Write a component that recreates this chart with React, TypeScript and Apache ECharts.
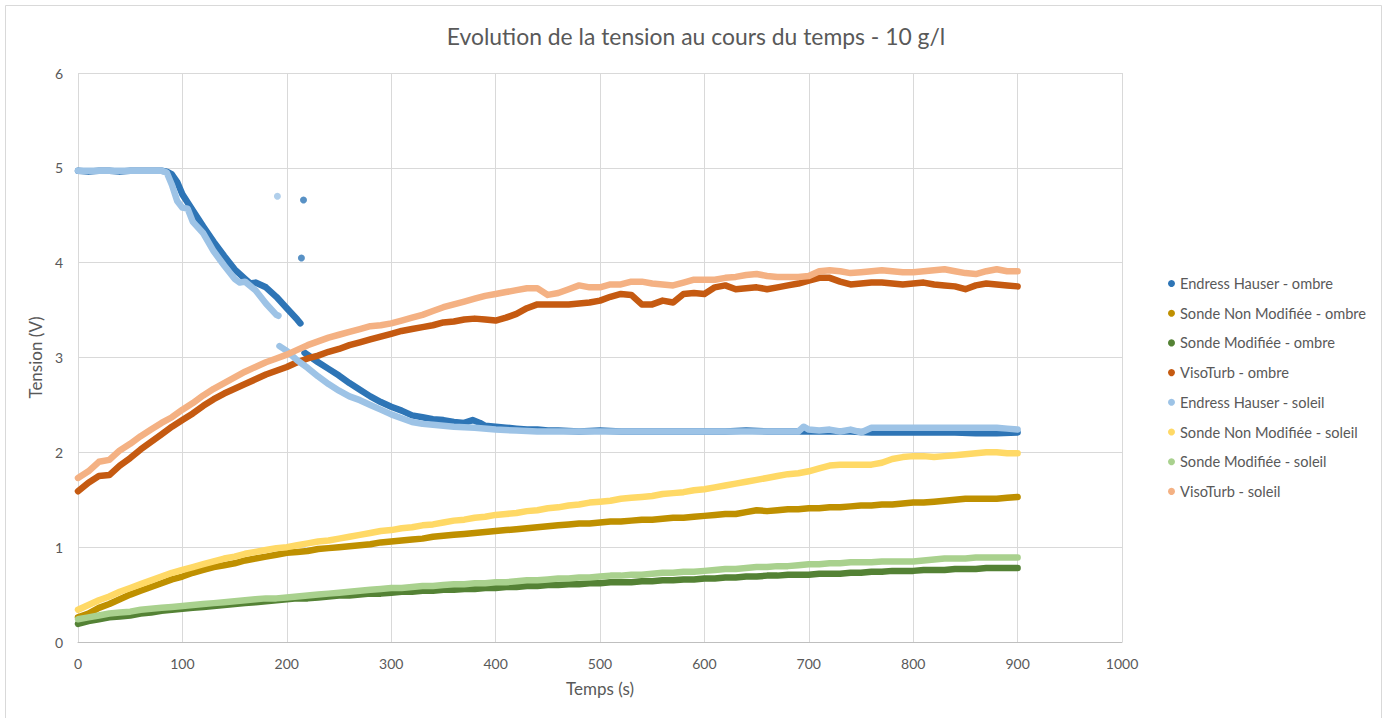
import React, { useEffect, useRef } from "react";
import * as echarts from "echarts";

const titleText = "Evolution de la tension au cours du temps - 10 g/l";
const xName = "Temps (s)";
const yName = "Tension (V)";

const seriesNames = [
  "Endress Hauser - ombre",
  "Sonde Non Modifiée - ombre",
  "Sonde Modifiée - ombre",
  "VisoTurb - ombre",
  "Endress Hauser - soleil",
  "Sonde Non Modifiée - soleil",
  "Sonde Modifiée - soleil",
  "VisoTurb - soleil",
];
const seriesColors = ["#2E75B6", "#BF9000", "#548235", "#C55A11", "#9DC3E6", "#FFD966", "#A9D18E", "#F4B183"];

// common time grid (s)
const time = [
  0, 10, 20, 30, 40, 50, 60, 70, 80, 90, 100, 110, 120, 130, 140, 150, 160, 170, 180, 190,
  200, 210, 220, 230, 240, 250, 260, 270, 280, 290, 300, 310, 320, 330, 340, 350, 360, 370, 380, 390,
  400, 410, 420, 430, 440, 450, 460, 470, 480, 490, 500, 510, 520, 530, 540, 550, 560, 570, 580, 590,
  600, 610, 620, 630, 640, 650, 660, 670, 680, 690, 700, 710, 720, 730, 740, 750, 760, 770, 780, 790,
  800, 810, 820, 830, 840, 850, 860, 870, 880, 890, 900,
];

const snmOmbre = [
  0.26, 0.30, 0.36, 0.40, 0.45, 0.50, 0.54, 0.58, 0.62, 0.66, 0.69, 0.73, 0.76, 0.79, 0.81, 0.83, 0.86, 0.88, 0.90, 0.92,
  0.94, 0.95, 0.96, 0.98, 0.99, 1.00, 1.01, 1.02, 1.03, 1.05, 1.06, 1.07, 1.08, 1.09, 1.11, 1.12, 1.13, 1.14, 1.15, 1.16,
  1.17, 1.18, 1.19, 1.20, 1.21, 1.22, 1.23, 1.24, 1.25, 1.25, 1.26, 1.27, 1.27, 1.28, 1.29, 1.29, 1.30, 1.31, 1.31, 1.32,
  1.33, 1.34, 1.35, 1.35, 1.37, 1.39, 1.38, 1.39, 1.40, 1.40, 1.41, 1.41, 1.42, 1.42, 1.43, 1.44, 1.44, 1.45, 1.45, 1.46,
  1.47, 1.47, 1.48, 1.49, 1.50, 1.51, 1.51, 1.51, 1.51, 1.52, 1.53,
];
const smOmbre = [
  0.19, 0.22, 0.24, 0.26, 0.27, 0.28, 0.30, 0.31, 0.33, 0.34, 0.35, 0.36, 0.37, 0.38, 0.39, 0.40, 0.41, 0.42, 0.43, 0.44,
  0.45, 0.46, 0.46, 0.47, 0.48, 0.49, 0.49, 0.50, 0.51, 0.51, 0.52, 0.53, 0.53, 0.54, 0.54, 0.55, 0.55, 0.56, 0.56, 0.57,
  0.57, 0.58, 0.58, 0.59, 0.59, 0.60, 0.60, 0.61, 0.61, 0.62, 0.62, 0.63, 0.63, 0.63, 0.64, 0.64, 0.65, 0.65, 0.66, 0.66,
  0.67, 0.67, 0.68, 0.68, 0.69, 0.69, 0.70, 0.70, 0.71, 0.71, 0.71, 0.72, 0.72, 0.72, 0.73, 0.73, 0.74, 0.74, 0.75, 0.75,
  0.75, 0.76, 0.76, 0.76, 0.77, 0.77, 0.77, 0.78, 0.78, 0.78, 0.78,
];
const visoOmbre = [
  1.59, 1.68, 1.75, 1.76, 1.86, 1.94, 2.03, 2.11, 2.19, 2.27, 2.34, 2.41, 2.49, 2.56, 2.62, 2.67, 2.72, 2.77, 2.82, 2.86,
  2.90, 2.95, 2.99, 3.02, 3.06, 3.09, 3.13, 3.16, 3.19, 3.22, 3.25, 3.28, 3.30, 3.32, 3.34, 3.37, 3.38, 3.40, 3.41, 3.40,
  3.39, 3.42, 3.46, 3.52, 3.56, 3.56, 3.56, 3.56, 3.57, 3.58, 3.60, 3.64, 3.67, 3.66, 3.56, 3.56, 3.60, 3.58, 3.67, 3.68,
  3.67, 3.74, 3.76, 3.72, 3.73, 3.74, 3.72, 3.74, 3.76, 3.78, 3.81, 3.84, 3.84, 3.80, 3.77, 3.78, 3.79, 3.79, 3.78, 3.77,
  3.78, 3.79, 3.77, 3.76, 3.75, 3.72, 3.76, 3.78, 3.77, 3.76, 3.75,
];
const snmSoleil = [
  0.34, 0.39, 0.44, 0.48, 0.53, 0.57, 0.61, 0.65, 0.69, 0.73, 0.76, 0.79, 0.82, 0.85, 0.88, 0.90, 0.93, 0.95, 0.97, 0.99,
  1.00, 1.02, 1.04, 1.06, 1.07, 1.09, 1.11, 1.13, 1.15, 1.17, 1.18, 1.20, 1.21, 1.23, 1.24, 1.26, 1.28, 1.29, 1.31, 1.32,
  1.34, 1.35, 1.36, 1.38, 1.39, 1.41, 1.42, 1.44, 1.45, 1.47, 1.48, 1.49, 1.51, 1.52, 1.53, 1.54, 1.56, 1.57, 1.58, 1.60,
  1.61, 1.63, 1.65, 1.67, 1.69, 1.71, 1.73, 1.75, 1.77, 1.78, 1.80, 1.83, 1.86, 1.87, 1.87, 1.87, 1.87, 1.89, 1.93, 1.95,
  1.96, 1.96, 1.95, 1.96, 1.97, 1.98, 1.99, 2.00, 2.00, 1.99, 1.99,
];
const smSoleil = [
  0.24, 0.26, 0.28, 0.30, 0.31, 0.32, 0.34, 0.35, 0.36, 0.37, 0.38, 0.39, 0.40, 0.41, 0.42, 0.43, 0.44, 0.45, 0.46, 0.46,
  0.47, 0.48, 0.49, 0.50, 0.51, 0.52, 0.53, 0.54, 0.55, 0.56, 0.57, 0.57, 0.58, 0.59, 0.59, 0.60, 0.61, 0.61, 0.62, 0.62,
  0.63, 0.63, 0.64, 0.65, 0.65, 0.66, 0.67, 0.67, 0.68, 0.68, 0.69, 0.70, 0.70, 0.71, 0.71, 0.72, 0.73, 0.73, 0.74, 0.74,
  0.75, 0.76, 0.77, 0.77, 0.78, 0.79, 0.79, 0.80, 0.80, 0.81, 0.82, 0.82, 0.83, 0.83, 0.84, 0.84, 0.84, 0.85, 0.85, 0.85,
  0.85, 0.86, 0.87, 0.88, 0.88, 0.88, 0.89, 0.89, 0.89, 0.89, 0.89,
];
const visoSoleil = [
  1.73, 1.80, 1.90, 1.92, 2.02, 2.09, 2.17, 2.24, 2.31, 2.37, 2.45, 2.52, 2.60, 2.67, 2.73, 2.79, 2.85, 2.90, 2.95, 2.99,
  3.03, 3.08, 3.13, 3.17, 3.21, 3.24, 3.27, 3.30, 3.33, 3.34, 3.36, 3.39, 3.42, 3.45, 3.49, 3.53, 3.56, 3.59, 3.62, 3.65,
  3.67, 3.69, 3.71, 3.73, 3.73, 3.66, 3.68, 3.72, 3.76, 3.74, 3.74, 3.77, 3.77, 3.80, 3.80, 3.78, 3.77, 3.76, 3.79, 3.82,
  3.82, 3.82, 3.84, 3.85, 3.87, 3.88, 3.86, 3.85, 3.85, 3.85, 3.86, 3.91, 3.92, 3.91, 3.89, 3.90, 3.91, 3.92, 3.91, 3.90,
  3.90, 3.91, 3.92, 3.93, 3.91, 3.89, 3.88, 3.91, 3.93, 3.91, 3.91,
];

// Endress Hauser series have their own time points (with a gap: null)
const ehOmbreTime = [
  0, 10, 20, 30, 40, 50, 60, 70, 80, 85, 90, 95, 100, 110, 120, 130, 140, 150, 160, 165, 170, 180, 190, 200, 210, 213,
  215, 217, 230, 240, 250, 260, 270, 280, 290, 300, 310, 320, 330, 340, 350, 360, 370, 378, 385, 390, 400, 410, 420, 430,
  440, 450, 460, 480, 500, 520, 540, 560, 580, 600, 620, 640, 660, 680, 700, 720, 740, 760, 780, 800, 820, 840, 860, 880, 900,
];
const ehOmbre = [
  4.97, 4.96, 4.97, 4.97, 4.96, 4.97, 4.97, 4.97, 4.97, 4.96, 4.93, 4.85, 4.72, 4.55, 4.38, 4.22, 4.07, 3.93, 3.83, 3.78, 3.79, 3.74, 3.64, 3.52, 3.40, 3.36,
  null, 3.05, 2.95, 2.88, 2.81, 2.73, 2.66, 2.59, 2.53, 2.48, 2.44, 2.39, 2.37, 2.35, 2.34, 2.32, 2.31, 2.34, 2.31, 2.28, 2.27, 2.26, 2.25, 2.24,
  2.24, 2.23, 2.23, 2.22, 2.23, 2.22, 2.22, 2.22, 2.22, 2.22, 2.22, 2.23, 2.22, 2.22, 2.22, 2.22, 2.22, 2.21, 2.21, 2.21, 2.21, 2.21, 2.20, 2.20, 2.21,
];
const ehOmbreOutlierTime = [214, 216];
const ehOmbreOutlier = [4.05, 4.66];

const ehSoleilTime = [
  0, 10, 20, 30, 40, 50, 60, 70, 80, 85, 90, 95, 100, 105, 110, 120, 130, 140, 150, 155, 160, 170, 180, 190, 192,
  192.5, 193, 200, 210, 220, 230, 240, 250, 260, 270, 280, 290, 300, 310, 320, 330, 340, 360, 380, 400, 420, 440, 460,
  480, 500, 520, 540, 560, 580, 600, 620, 640, 660, 680, 690, 695, 700, 710, 720, 730, 740, 750, 760, 780, 800, 820, 840,
  860, 880, 890, 900,
];
const ehSoleil = [
  4.97, 4.97, 4.97, 4.97, 4.97, 4.97, 4.97, 4.97, 4.97, 4.95, 4.82, 4.65, 4.58, 4.57, 4.43, 4.31, 4.12, 3.97, 3.83, 3.79, 3.80, 3.71, 3.57, 3.45, 3.44,
  null, 3.12, 3.07, 2.97, 2.89, 2.80, 2.72, 2.65, 2.59, 2.55, 2.50, 2.45, 2.40, 2.36, 2.32, 2.30, 2.29, 2.27, 2.26, 2.24, 2.23, 2.22, 2.22,
  2.22, 2.22, 2.22, 2.22, 2.22, 2.22, 2.22, 2.22, 2.22, 2.22, 2.22, 2.22, 2.27, 2.24, 2.23, 2.24, 2.22, 2.24, 2.21, 2.26, 2.26, 2.26, 2.26, 2.26,
  2.26, 2.26, 2.25, 2.24,
];
const ehSoleilOutlierTime = [191];
const ehSoleilOutlier = [4.7];

const xTicks = { min: 0, max: 1000, interval: 100 };
const yTicks = { min: 0, max: 6, interval: 1 };

function pairs(t: number[], v: (number | null)[]) {
  return t.map((x, i) => [x, v[i] === null ? "-" : v[i]]);
}

const FONT = "Lato, 'Open Sans', sans-serif";
const GREY = "#595959";

export default function App() {
  const ref = useRef<HTMLDivElement>(null);
  useEffect(() => {
    if (!ref.current) return;
    const chart = echarts.init(ref.current, null, { renderer: "svg" });
    const lineData: [number[], (number | null)[]][] = [
      [ehOmbreTime, ehOmbre],
      [time, snmOmbre],
      [time, smOmbre],
      [time, visoOmbre],
      [ehSoleilTime, ehSoleil],
      [time, snmSoleil],
      [time, smSoleil],
      [time, visoSoleil],
    ];
    const series: any[] = lineData.map(([t, v], i) => ({
      name: seriesNames[i],
      type: "line",
      data: pairs(t, v),
      showSymbol: false,
      symbol: "circle",
      connectNulls: false,
      color: seriesColors[i],
      lineStyle: { width: 6.5, color: seriesColors[i], cap: "round", join: "round" },
      z: 2 + i,
    }));
    series.push({
      name: seriesNames[0],
      type: "scatter",
      data: pairs(ehOmbreOutlierTime, ehOmbreOutlier),
      symbolSize: 7,
      itemStyle: { color: seriesColors[0] },
      z: 2,
    });
    series.push({
      name: seriesNames[4],
      type: "scatter",
      data: pairs(ehSoleilOutlierTime, ehSoleilOutlier),
      symbolSize: 7,
      itemStyle: { color: seriesColors[4] },
      z: 6,
    });

    chart.setOption({
      animation: false,
      backgroundColor: "#ffffff",
      textStyle: { fontFamily: FONT },
      title: {
        text: titleText,
        left: "center",
        top: 19,
        textStyle: { fontFamily: FONT, fontSize: 22.9, fontWeight: "normal", color: GREY },
      },
      graphic: [
        {
          type: "rect",
          shape: { x: 5.5, y: 5.5, width: 1376, height: 740 },
          style: { fill: "none", stroke: "#D9D9D9", lineWidth: 1 },
          silent: true,
        },
      ],
      legend: {
        data: seriesNames.map((n) => ({ name: n, icon: "circle" })),
        orient: "vertical",
        left: 1163,
        top: 271,
        itemWidth: 7,
        itemHeight: 7,
        itemGap: 14.7,
        textStyle: { fontFamily: FONT, fontSize: 14.6, color: GREY },
        selectedMode: false,
      },
      grid: { left: 78, right: 270, top: 73, bottom: 76, containLabel: false },
      xAxis: {
        type: "value",
        ...xTicks,
        name: xName,
        nameLocation: "middle",
        nameGap: 38,
        nameTextStyle: { fontFamily: FONT, fontSize: 17, color: GREY },
        axisLine: { show: true, lineStyle: { color: "#BFBFBF", width: 1 } },
        axisTick: { show: false },
        axisLabel: { fontFamily: FONT, fontSize: 14, color: GREY, margin: 14, formatter: (v: number) => String(v) },
        splitLine: { show: true, lineStyle: { color: "#D9D9D9", width: 1 } },
      },
      yAxis: {
        type: "value",
        ...yTicks,
        name: yName,
        nameLocation: "middle",
        nameGap: 30,
        nameTextStyle: { fontFamily: FONT, fontSize: 17, color: GREY },
        axisLine: { show: false },
        axisTick: { show: false },
        axisLabel: { fontFamily: FONT, fontSize: 14, color: GREY, margin: 15, formatter: (v: number) => String(v) },
        splitLine: { show: true, lineStyle: { color: "#D9D9D9", width: 1 } },
      },
      series,
    });
    return () => chart.dispose();
  }, []);
  return (
    <div
      ref={ref}
      style={{ position: "fixed", left: 0, top: 0, width: 1392, height: 718, background: "#fff" }}
    />
  );
}
